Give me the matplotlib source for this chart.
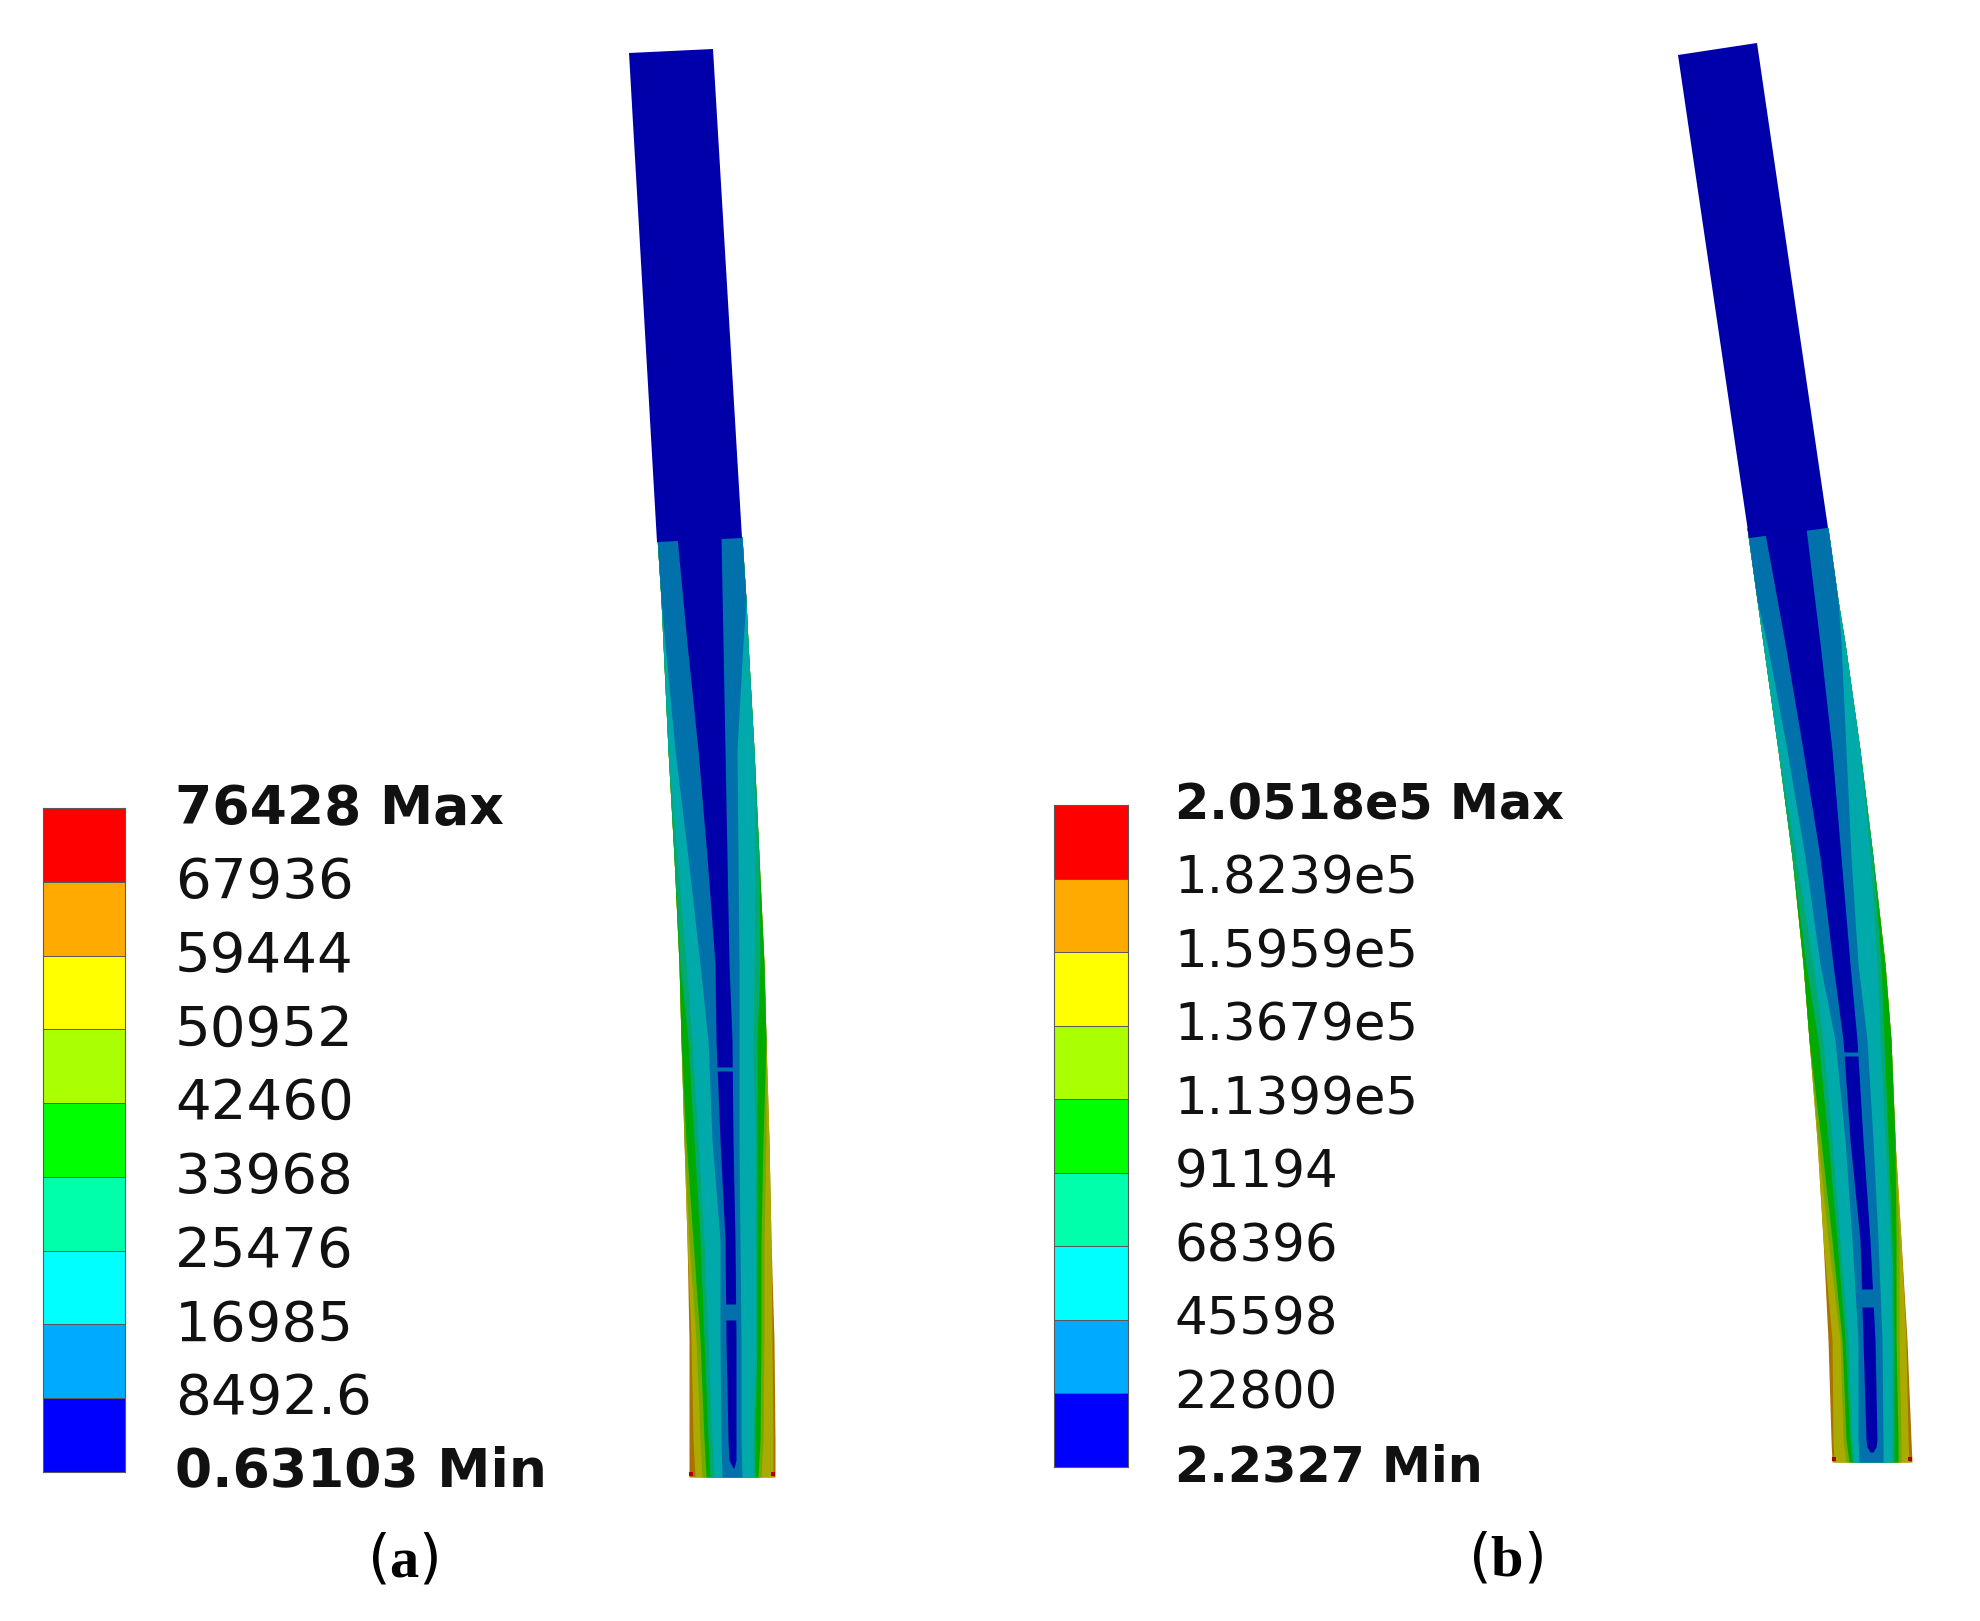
import numpy as np
import matplotlib
matplotlib.use("Agg")
import matplotlib.pyplot as plt
from matplotlib.colors import ListedColormap, to_rgb
from matplotlib.transforms import ScaledTranslation

W, H = 1980, 1621

# legend colours, lowest band first
legend_colors = ["#0000FF", "#00AAFF", "#00FFFF", "#00FFAA", "#00FF00",
                 "#AAFF00", "#FFFF00", "#FFAA00", "#FF0000"]

# legend levels
a_levels = [0.63103, 8492.6, 16985, 25476, 33968, 42460, 50952, 59444, 67936, 76428]
a_labels = ["0.63103 Min", "8492.6", "16985", "25476", "33968", "42460", "50952",
            "59444", "67936", "76428 Max"]
b_levels = [2.2327, 22800, 45598, 68396, 91194, 1.1399e5, 1.3679e5, 1.5959e5, 1.8239e5, 2.0518e5]
b_labels = ["2.2327 Min", "22800", "45598", "68396", "91194", "1.1399e5", "1.3679e5",
            "1.5959e5", "1.8239e5", "2.0518e5 Max"]

# --- contour outlines, in picture pixels ---
# solid upper block
a_block_x = [629, 713, 742, 657]
a_block_y = [53, 49, 538, 542]
b_block_x = [1678, 1757, 1828, 1749]
b_block_y = [55, 43, 528, 538]

# beam (a), heights of the stations
a_y = [537, 600, 643, 750, 857, 964, 1040, 1140, 1240, 1340, 1440, 1477]
# left and right limit of each band, outermost band (orange) first
a_left = [
    [657, 661, 663, 668, 674, 679, 681, 684, 687, 689, 689, 689],
    [657, 661, 663, 668, 674, 679, 681, 684, 687, 691, 693, 695],
    [657, 661, 663, 668, 674, 679, 681, 684, 689, 696, 700, 702],
    [657, 661, 663, 668, 674, 679, 681, 686, 693, 700, 704, 706],
    [657, 661, 663, 668, 674, 680, 688, 694, 700, 704, 708, 710],
    [657, 661, 663, 668, 677, 686, 692, 698, 704, 708, 712, 714],
    [657, 661, 665, 675, 688, 700, 708, 712, 720, 720, 721, 722],
]
a_right = [
    [742, 746, 748, 754, 759, 764, 766, 769, 771, 774, 775, 775],
    [742, 746, 748, 754, 759, 764, 766, 769, 771, 772, 773, 773],
    [742, 746, 748, 754, 759, 764, 766, 766, 764, 764, 763, 761],
    [742, 746, 748, 754, 759, 764, 766, 763, 761, 761, 760, 758],
    [742, 746, 748, 754, 759, 760, 757, 757, 757, 757, 755, 755],
    [742, 746, 748, 754, 755, 754, 753, 755, 755, 755, 753, 753],
    [742, 746, 743, 737, 738, 739, 739, 739, 740, 741, 741, 742],
]
a_core_y = [537, 643, 750, 857, 964, 1040, 1140, 1240, 1340, 1440, 1460, 1468]
a_core_left = [677, 687, 698, 707, 715, 716, 720, 725, 726, 728, 729, 733]
a_core_right = [721, 723, 725, 727, 729, 732, 733, 735, 736, 736, 736, 734]
a_core_parts = [(537, 1067), (1071, 1304), (1320, 1468)]
a_corner_x = [691, 773]
a_corner_y = [1474, 1474]

# beam (b)
b_y = [528, 600, 643, 750, 857, 964, 1040, 1140, 1240, 1340, 1440, 1462]
b_left = [
    [1747, 1757, 1763, 1778, 1792, 1803, 1809, 1817, 1823, 1828, 1831, 1832],
    [1747, 1757, 1763, 1778, 1792, 1803, 1809, 1817, 1823, 1832, 1833, 1834],
    [1747, 1757, 1763, 1778, 1792, 1803, 1809, 1818, 1828, 1840, 1843, 1846],
    [1747, 1757, 1763, 1778, 1792, 1803, 1809, 1821, 1832, 1842, 1846, 1849],
    [1747, 1757, 1763, 1778, 1792, 1806, 1818, 1828, 1837, 1845, 1850, 1852],
    [1747, 1757, 1763, 1778, 1796, 1813, 1823, 1832, 1840, 1848, 1852, 1854],
    [1747, 1757, 1767, 1787, 1805, 1820, 1835, 1845, 1852, 1858, 1858, 1859],
]
b_right = [
    [1828, 1838, 1845, 1860, 1873, 1885, 1891, 1895, 1901, 1907, 1911, 1912],
    [1828, 1838, 1845, 1860, 1873, 1885, 1891, 1895, 1901, 1906, 1908, 1909],
    [1828, 1838, 1845, 1860, 1873, 1885, 1891, 1895, 1899, 1899, 1901, 1901],
    [1828, 1838, 1845, 1860, 1873, 1885, 1891, 1895, 1896, 1896, 1898, 1898],
    [1828, 1838, 1845, 1860, 1873, 1881, 1884, 1888, 1892, 1894, 1894, 1894],
    [1828, 1838, 1845, 1860, 1870, 1877, 1880, 1885, 1890, 1892, 1892, 1892],
    [1828, 1838, 1841, 1846, 1851, 1858, 1867, 1873, 1878, 1882, 1883, 1883],
]
b_core_y = [528, 643, 750, 857, 964, 1040, 1140, 1240, 1340, 1440, 1447, 1452]
b_core_left = [1764, 1785, 1803, 1820, 1833, 1843, 1850, 1860, 1863, 1866, 1867, 1870]
b_core_right = [1806, 1820, 1832, 1841, 1850, 1857, 1863, 1870, 1875, 1877, 1876, 1873]
b_core_parts = [(528, 1052), (1056, 1289), (1307, 1452)]
b_corner_x = [1834, 1910]
b_corner_y = [1459, 1459]

# the model is drawn in the legend colours at two thirds brightness
beam_colors = [tuple(c * 2 / 3 for c in to_rgb(k)) for k in legend_colors]

plt.rcParams["font.family"] = "DejaVu Sans"
plt.rcParams["mathtext.fontset"] = "custom"
plt.rcParams["mathtext.rm"] = "Liberation Serif"
plt.rcParams["mathtext.bf"] = "Liberation Serif:bold"

fig = plt.figure(figsize=(W / 100, H / 100), dpi=100, facecolor="white")
ax = fig.add_axes([0, 0, 1, 1])
ax.set_xlim(0, W)
ax.set_ylim(H, 0)
ax.axis("off")


def draw_beam(y, left, right, core_y, core_left, core_right, core_parts,
              block_x, block_y, corner_x, corner_y):
    # bands are painted from the outside in, orange first, blue last
    # no antialiasing here, stacked edges would tint the outline
    for i in range(len(left)):
        ax.fill_betweenx(y, left[i], right[i], color=beam_colors[7 - i], lw=0, antialiased=False)
    for start, end in core_parts:
        ys = [v for v in core_y if start < v < end]
        ys = [start] + ys + [end]
        ax.fill_betweenx(ys, np.interp(ys, core_y, core_left), np.interp(ys, core_y, core_right),
                         color=beam_colors[0], lw=0)
    ax.fill(block_x, block_y, color=beam_colors[0], lw=0)
    ax.plot(corner_x, corner_y, "s", color=beam_colors[8], ms=3, mew=0)


draw_beam(a_y, a_left, a_right, a_core_y, a_core_left, a_core_right, a_core_parts,
          a_block_x, a_block_y, a_corner_x, a_corner_y)
draw_beam(b_y, b_left, b_right, b_core_y, b_core_left, b_core_right, b_core_parts,
          b_block_x, b_block_y, b_corner_x, b_corner_y)


def draw_legend(box, levels, labels, pad, size, bold_size, lift):
    x0, y0, x1, y1 = box
    cax = fig.add_axes([x0 / W, 1 - y1 / H, (x1 - x0) / W, (y1 - y0) / H])
    cmap = ListedColormap(legend_colors)
    cax.pcolormesh([0, 1], levels, np.arange(9).reshape(-1, 1), cmap=cmap,
                   edgecolors="#5a5a5a", linewidth=0.7)
    cax.set_xticks([])
    cax.yaxis.tick_right()
    cax.set_yticks(levels)
    cax.set_yticklabels(labels, fontsize=size, color="#111111")
    cax.tick_params(axis="y", length=0, pad=pad)
    up = ScaledTranslation(0, lift / 100, fig.dpi_scale_trans)
    for lab in cax.get_yticklabels():
        lab.set_transform(lab.get_transform() + up)
    for lab in (cax.get_yticklabels()[0], cax.get_yticklabels()[-1]):
        lab.set_fontweight("bold")
        lab.set_fontsize(bold_size)
    for s in cax.spines.values():
        s.set_color("#5a5a5a")
        s.set_linewidth(0.8)


draw_legend((43, 808, 125, 1472), a_levels, a_labels, 36, 40.5, 38.5, 5)
draw_legend((1054, 805, 1128, 1467), b_levels, b_labels, 33.5, 37, 35.5, 4.5)

ax.text(403, 1560, r"($\mathbf{a}$)", fontsize=42, ha="center", va="center", color="black")
ax.text(1506, 1559, r"($\mathbf{b}$)", fontsize=42, ha="center", va="center", color="black")

fig.savefig("out.png", dpi=100, facecolor="white")
